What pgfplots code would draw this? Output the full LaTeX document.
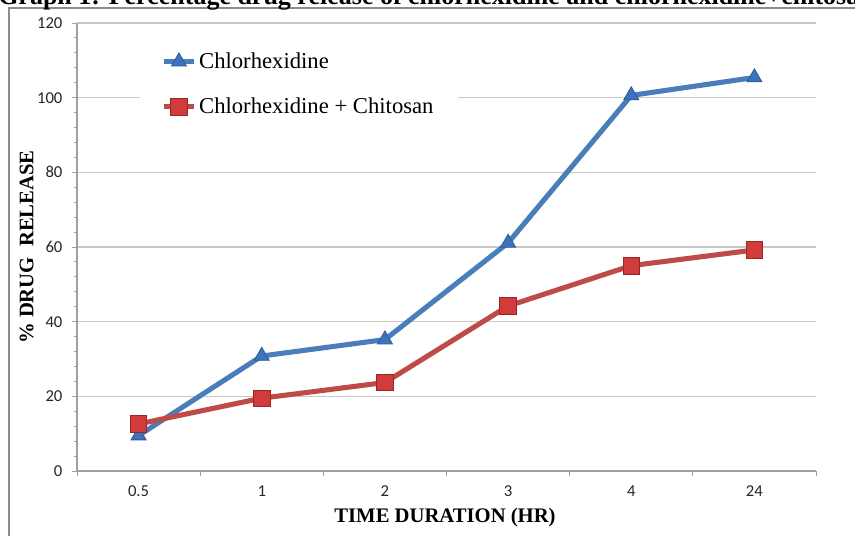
\documentclass[border=0pt]{standalone}
\usepackage{fontspec}
\setmainfont{Liberation Serif}
\newfontfamily\carlito{Carlito}
\usepackage{pgfplots}
\pgfplotsset{compat=1.18}

\definecolor{lnblue}{HTML}{4A7EBB}
\definecolor{mkblue}{HTML}{3C72BE}
\definecolor{mkblueD}{HTML}{2C5A96}
\definecolor{lnred}{HTML}{BE4B48}
\definecolor{mkred}{HTML}{D23B3B}
\definecolor{mkredD}{HTML}{962826}
\definecolor{gridgray}{HTML}{C8C8C8}
\definecolor{axgray}{HTML}{A0A0A0}
\definecolor{framegray}{HTML}{8C8C8C}

\pgfplotsset{
  every tick label/.append style={font=\carlito\fontsize{12.5}{14}\selectfont, text=black!85},
}

\begin{document}
\begin{tikzpicture}
% outer frame of the chart area (cut by the page edge)
\draw[framegray, line width=0.8pt] (6.75pt,-2pt) -- (6.75pt,395.25pt) -- (645pt,395.25pt);
% title, mostly cut off at the top as in the source
\node[anchor=base west, inner sep=0pt, font=\bfseries\fontsize{19.5}{22}\selectfont]
  at (-1.5pt,397.5pt) {Graph 1: Percentage drug release of chlorhexidine and chlorhexidine+chitosan};

\begin{axis}[
  at={(57.75pt,48pt)}, anchor=south west,
  scale only axis, width=554.25pt, height=336pt,
  xmin=-0.5, xmax=5.5, ymin=0, ymax=120,
  axis lines=left,
  axis line style={-, draw=axgray, line width=0.8pt},
  xtick={-0.5,0.5,1.5,2.5,3.5,4.5,5.5},
  xticklabels={0.5,1,2,3,4,24,{}},
  ytick={0,20,...,120},
  minor y tick num=4,
  tick align=outside,
  major tick length=3.75pt,
  minor tick length=2.5pt,
  tick style={draw=axgray, line width=0.7pt},
  xticklabel style={inner sep=0pt, anchor=north, xshift=46.2pt, yshift=-7pt},
  yticklabel style={inner sep=0pt, anchor=east, xshift=-7pt},
  /pgf/number format/assume math mode=true,
  ymajorgrids=true,
  grid style={draw=gridgray, line width=0.8pt},
  xlabel={TIME DURATION (HR)},
  ylabel={\% DRUG\ \ RELEASE},
  every axis x label/.style={at={(axis description cs:0.498,-0.103)}, anchor=center,
    font=\bfseries\fontsize{15.5}{18}\selectfont},
  every axis y label/.style={at={(axis description cs:-0.068,0.5)}, anchor=center, rotate=90,
    font=\bfseries\fontsize{15.5}{18}\selectfont},
  legend style={at={(axis description cs:0.085,0.952)}, anchor=north west,
    draw=none, fill=white, font=\fontsize{17}{20}\selectfont,
    row sep=16.5pt, inner xsep=16pt, inner ysep=4pt},
  legend cell align=left,
  legend image code/.code={
    \draw[mark repeat=2, mark phase=2, #1] plot coordinates {(0pt,0pt) (11.25pt,0pt) (22.5pt,0pt)};
  },
]
\addplot[color=lnblue, line width=3.8pt, mark=triangle*, mark size=6.5pt,
  mark options={solid, fill=mkblue, draw=mkblueD, line width=0.6pt}]
  coordinates {(0,9.5) (1,30.8) (2,35.2) (3,61.1) (4,100.6) (5,105.4)};
\addplot[color=lnred, line width=3.8pt, mark=square*, mark size=6.2pt,
  mark options={solid, fill=mkred, draw=mkredD, line width=0.6pt}]
  coordinates {(0,12.6) (1,19.5) (2,23.7) (3,44.2) (4,55.0) (5,59.2)};
\legend{Chlorhexidine, Chlorhexidine + Chitosan}
\end{axis}

\pgfresetboundingbox
\useasboundingbox (0,0) rectangle (641.25pt,401.25pt);
\end{tikzpicture}
\end{document}
